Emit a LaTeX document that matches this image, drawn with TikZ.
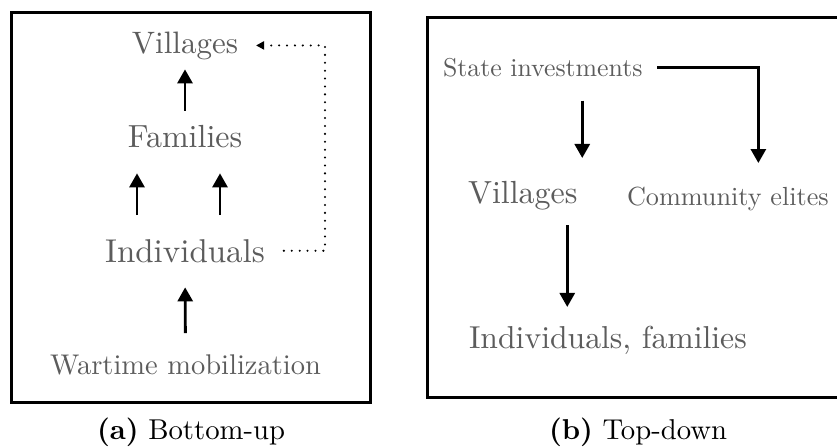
\documentclass[tikz,border=0pt]{standalone}
\usepackage{fontspec}
\setmainfont{lmroman10}[Extension=.otf, UprightFont=*-regular, BoldFont=*-bold, ItalicFont=*-italic, BoldItalicFont=*-bolditalic]
\usetikzlibrary{arrows.meta,calc}
\definecolor{txtgray}{RGB}{92,92,92}
\tikzset{
  lbl/.style={inner sep=0pt, outer sep=0pt, text=txtgray, anchor=base},
  frame/.style={line width=3pt, draw=black},
  arr/.style={line width=2.8pt, -{Triangle[length=14pt,width=15pt]}},
  dotarr/.style={line width=2.3pt, line cap=round, dash pattern=on 0pt off 7.9pt, -{Triangle[length=8pt,width=8pt]}},
  captxt/.style={inner sep=0pt, outer sep=0pt, anchor=base}
}
\begin{document}
\begin{tikzpicture}[x=1pt,y=-1pt]
\useasboundingbox (0,0) rectangle (837,447);
% frames
\draw[frame] (11,12) rectangle (370,402);
\draw[frame] (845,17) -- (427,17) -- (427,397) -- (845,397);

% (a) Bottom-up
\node[lbl, font=\fontsize{31}{37}\selectfont] (vil) at (185,53) {Villages};
\node[lbl, font=\fontsize{32}{38}\selectfont] (fam) at (185,147) {Families};
\node[lbl, font=\fontsize{33}{39}\selectfont] (ind) at (185,262) {Individuals};
\node[lbl, font=\fontsize{28.5}{34}\selectfont] (war) at (185.5,374) {Wartime mobilization};
\coordinate (dotx) at (325,0);

\draw[arr, shorten <=13.8pt, shorten >=10pt] (fam.north) -- (vil.south);
\draw[arr, shorten <=24pt, shorten >=26pt] ([xshift=-48pt]ind.north) -- ([xshift=-48pt]fam.south);
\draw[arr, shorten <=24pt, shorten >=26pt] ([xshift=35pt]ind.north) -- ([xshift=35pt]fam.south);
\draw[arr, shorten <=21pt, shorten >=25pt] (war.north) -- (ind.south);
\draw[dotarr, shorten <=19pt, shorten >=18pt] (ind.east) -- (ind.east -| dotx) |- (vil.east);

\node[captxt, font=\fontsize{28.7}{34}\selectfont] (capa) at (191,439) {\textbf{(a)} Bottom-up};

% (b) Top-down
\node[lbl, anchor=base west, font=\fontsize{25.8}{31}\selectfont] (si) at (443,76) {State investments};
\node[lbl, anchor=base west, font=\fontsize{32}{38}\selectfont] (vr) at (468,203) {Villages};
\node[lbl, anchor=base west, font=\fontsize{26.2}{31}\selectfont] (ce) at (627,205) {Community elites};
\node[lbl, anchor=base west, font=\fontsize{31.7}{38}\selectfont] (if) at (469,348) {Individuals, families};

\draw[arr, shorten <=24pt, shorten >=22.8pt] ([xshift=39.5pt]si.south) -- ([xshift=39.5pt]si.south |- vr.north);
\draw[arr, shorten <=15pt, shorten >=23.5pt] (si.east) -| ([xshift=30.5pt]ce.north);
\draw[arr, shorten <=15.8pt, shorten >=18.7pt] ([xshift=44.5pt]vr.south) -- ([xshift=44.5pt]vr.south |- if.north);

\node[captxt, font=\fontsize{28.7}{34}\selectfont] (capb) at (638,439) {\textbf{(b)} Top-down};
\end{tikzpicture}
\end{document}
